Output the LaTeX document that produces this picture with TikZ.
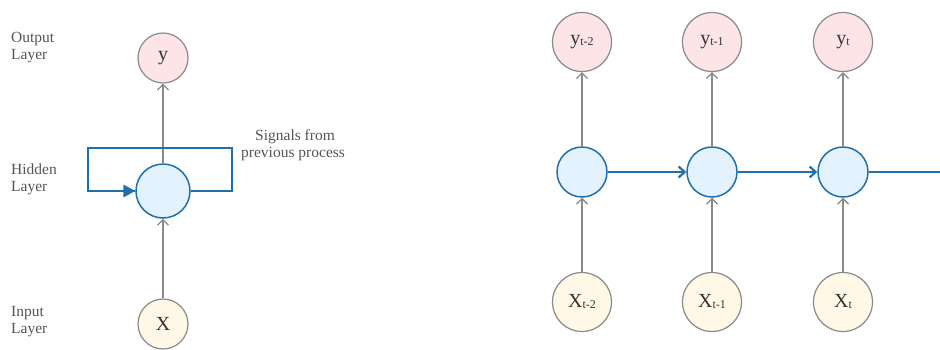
\documentclass[tikz,border=0pt]{standalone}
\usepackage{fontspec}
\setmainfont{Liberation Serif}
\usetikzlibrary{arrows.meta}
\definecolor{ringgray}{HTML}{8A8A8A}
\definecolor{pinkfill}{HTML}{FDE4E7}
\definecolor{bluefill}{HTML}{E3F2FD}
\definecolor{bluestroke}{HTML}{1F6FAE}
\definecolor{yellowfill}{HTML}{FFF8E6}
\definecolor{txtgray}{HTML}{555555}
\tikzset{
  outnode/.style={circle, draw=ringgray, fill=pinkfill, line width=1.2pt, inner sep=0pt},
  innode/.style={circle, draw=ringgray, fill=yellowfill, line width=1.2pt, inner sep=0pt},
  hidnode/.style={circle, draw=bluestroke, fill=bluefill, line width=1.5pt, inner sep=0pt},
  grayarrow/.style={draw=ringgray, line width=1.3pt, -{Straight Barb[length=5.5pt,width=11pt]}},
  bluearrow/.style={draw=bluestroke, line width=2.2pt, -{Straight Barb[length=6pt,width=11pt]}},
  bluepath/.style={draw=bluestroke, line width=2.2pt},
  lbl/.style={text=txtgray, font=\fontsize{15.5}{17}\selectfont, align=left, inner sep=0pt},
  big/.style={font=\fontsize{20}{20}\selectfont, text=black!80}
}
\newcommand{\sbx}[2]{#1{\fontsize{12}{12}\selectfont\raisebox{-1pt}{#2}}}
\begin{document}
\begin{tikzpicture}[x=1pt,y=-1pt]
\useasboundingbox (0,0) rectangle (940,349);
% left diagram
\node[outnode, minimum size=50pt, big] (y) at (163,58) {y};
\node[hidnode, minimum size=54pt] (h) at (163,191) {};
\node[innode, minimum size=50pt, big] (x) at (163,324) {X};
\draw[grayarrow] (x) -- (h);
\draw[grayarrow] (h) -- (y);
\coordinate (lA) at (88,191);
\coordinate (lB) at (88,148);
\coordinate (lC) at (232,148);
\coordinate (lD) at (232,191);
\draw[bluepath] (h.east) -- (lD) -- (lC) -- (lB) -- (lA) -- (h.west);
\fill[bluestroke] (h.west) -- ++(-12,-6.5) -- ++(0,13) -- cycle;
\node[lbl, anchor=north west] (ol) at (11,32) {Output\\Layer};
\node[lbl, anchor=north west] (hl) at (11,164) {Hidden\\Layer};
\node[lbl, anchor=north west] (il) at (11,306) {Input\\Layer};
\node[lbl, anchor=north west] (sig) at (241,129) {\hspace*{14pt}Signals from\\previous process};
% right diagram
\foreach \i/\cx/\sub in {1/582/t-2, 2/712/t-1, 3/843/t}{
  \node[outnode, minimum size=59pt, big] (y\i) at (\cx,42) {\sbx{y}{\sub}};
  \node[hidnode, minimum size=50pt] (h\i) at (\cx,172) {};
  \node[innode, minimum size=59pt, big] (x\i) at (\cx,302) {\sbx{X}{\sub}};
  \draw[grayarrow] (x\i) -- (h\i);
  \draw[grayarrow] (h\i) -- (y\i);
}
\coordinate (endR) at (941,172);
\draw[bluearrow] (h1) -- (h2);
\draw[bluearrow] (h2) -- (h3);
\draw[bluepath] (h3) -- (endR);
\end{tikzpicture}
\end{document}
